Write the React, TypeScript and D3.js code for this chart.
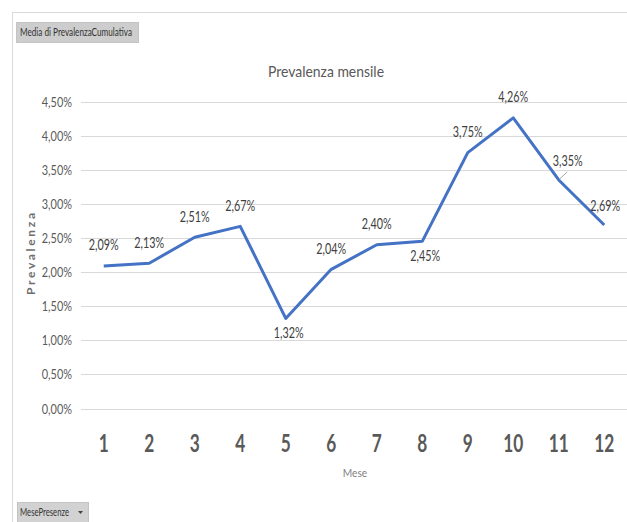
import React from "react";
import * as d3 from "d3";

const months: string[] = ["1", "2", "3", "4", "5", "6", "7", "8", "9", "10", "11", "12"];
const prevalence: number[] = [2.09, 2.13, 2.51, 2.67, 1.32, 2.04, 2.4, 2.45, 3.75, 4.26, 3.35, 2.69];
const yTicks: number[] = [0, 0.5, 1, 1.5, 2, 2.5, 3, 3.5, 4, 4.5];
const labelSide: string[] = ["above", "above", "above", "above", "below", "above", "above", "below", "above", "above", "leader", "right"];

const W = 627;
const H = 522;
const FONT = "Lato, 'Open Sans', sans-serif";
const TEXT = "#595959";
const GRID = "#d9d9d9";
const LINE = "#4472c4";

const fmt = (v: number) => v.toFixed(2).replace(".", ",") + "%";

type TProps = {
  x: number;
  y: number;
  sx?: number;
  size: number;
  anchor?: "start" | "middle" | "end";
  weight?: string;
  fill?: string;
  children: React.ReactNode;
};

// Text squeezed horizontally to mimic a narrow typeface.
function T({ x, y, sx = 1, size, anchor = "start", weight = "normal", fill = TEXT, children }: TProps) {
  return (
    <text
      transform={`translate(${x},${y}) scale(${sx},1)`}
      textAnchor={anchor}
      fontFamily={FONT}
      fontSize={size}
      fontWeight={weight}
      fill={fill}
    >
      {children}
    </text>
  );
}

export default function App() {
  const x = d3.scaleBand<string>().domain(months).range([81, 627]);
  const y = d3.scaleLinear().domain([0, 4.5]).range([408.5, 101.5]);
  const cx = (i: number) => (x(months[i]) as number) + x.bandwidth() / 2;

  const line = d3
    .line<number>()
    .x((_, i) => cx(i))
    .y((d) => y(d));

  return (
    <svg width={W} height={H} style={{ position: "absolute", left: 0, top: 0, background: "#fff" }}>
      <rect width={W} height={H} fill="#fff" />
      {/* outer frame */}
      <line x1={12} x2={W} y1={12.5} y2={12.5} stroke={GRID} />
      <line x1={12.5} x2={12.5} y1={12} y2={H} stroke={GRID} />

      {/* field buttons */}
      <rect x={16.5} y={22.5} width={122} height={20} fill="#cdcdcd" stroke="#c4c4c4" />
      <text x={20} y={36} fontFamily={FONT} fontSize={11} fill="#333" textLength={112} lengthAdjust="spacingAndGlyphs">
        Media di PrevalenzaCumulativa
      </text>
      <rect x={17.5} y={502.5} width={71} height={21} fill="#d2d2d2" stroke="#c4c4c4" />
      <text x={20} y={516} fontFamily={FONT} fontSize={11} fill="#333" textLength={49} lengthAdjust="spacingAndGlyphs">
        MesePresenze
      </text>
      <path d="M78,511 L83,511 L80.5,514 Z" fill="#444" />

      {/* title */}
      <text x={268} y={77} fontFamily={FONT} fontSize={16} fill={TEXT} textLength={116} lengthAdjust="spacingAndGlyphs">
        Prevalenza mensile
      </text>

      {/* gridlines and y tick labels */}
      {yTicks.map((t) => (
        <g key={t}>
          <line x1={81} x2={W} y1={Math.round(y(t)) + 0.5} y2={Math.round(y(t)) + 0.5} stroke={GRID} />
          <T x={72} y={y(t) + 5} sx={0.78} size={14} anchor="end">
            {fmt(t)}
          </T>
        </g>
      ))}

      {/* y axis title */}
      <text
        transform="translate(35,295) rotate(-90)"
        fontFamily={FONT}
        fontSize={12}
        fontWeight="bold"
        fill="#6f6f6f"
        textLength={82}
        lengthAdjust="spacing"
      >
        Prevalenza
      </text>

      {/* x tick labels */}
      {months.map((m, i) => (
        <T key={m} x={cx(i)} y={452} sx={0.72} size={24} weight="bold" anchor="middle">
          {m}
        </T>
      ))}
      <T x={355} y={477} sx={0.85} size={12} anchor="middle" fill="#7f7f7f">
        Mese
      </T>

      {/* series line */}
      <path d={line(prevalence) || ""} fill="none" stroke={LINE} strokeWidth={3} strokeLinejoin="round" />

      {/* data labels */}
      {prevalence.map((v, i) => {
        const px = cx(i);
        const py = y(v);
        const side = labelSide[i];
        let lx = px;
        let ly = py - 15.5;
        if (side === "below") {
          lx = px + 3;
          ly = py + 20;
        }
        if (side === "right") {
          lx = px + 1;
          ly = py - 13.5;
        }
        if (side === "leader") {
          lx = px + 9;
          ly = py - 14;
        }
        return (
          <g key={i}>
            {side === "leader" && (
              <line x1={px + 1} y1={py - 1} x2={px + 8.5} y2={py - 8} stroke="#a6a6a6" strokeWidth={1} />
            )}
            <T x={lx} y={ly} sx={0.72} size={15} anchor="middle" fill="#404040">
              {fmt(v)}
            </T>
          </g>
        );
      })}
    </svg>
  );
}
